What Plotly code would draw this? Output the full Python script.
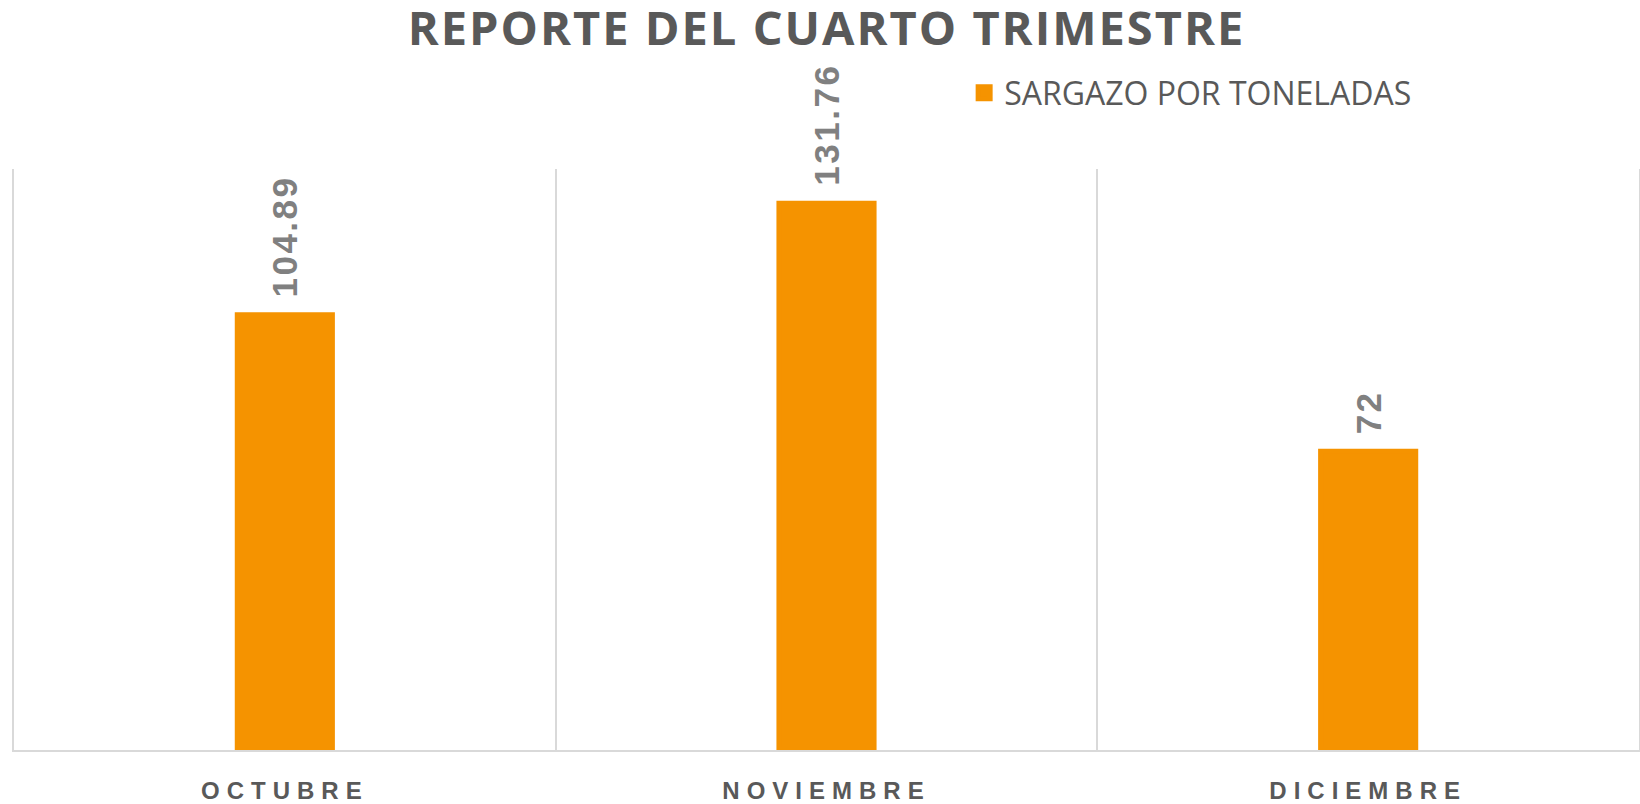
import plotly.graph_objects as go

months = ["OCTUBRE", "NOVIEMBRE", "DICIEMBRE"]
tons = [104.89, 131.76, 72]
label_text = ["104.89", "131.76", "72"]
series_name = "SARGAZO POR TONELADAS"
title_text = "REPORTE DEL CUARTO TRIMESTRE"

ORANGE = "#F59300"
GRID = "#D9D9D9"
DARK = "#595959"
LABEL = "#808080"

fig = go.Figure()
fig.add_trace(go.Bar(
    x=months, y=tons, name=series_name,
    marker=dict(color=ORANGE, line=dict(width=5, color=ORANGE)),
    width=0.1756, showlegend=True, hoverinfo="skip",
))

for m, v, t in zip(months, tons, label_text):
    fig.add_annotation(
        x=m, y=v, text=f'<b><span style="letter-spacing:2.5px">{t}</span></b>',
        textangle=-90, showarrow=False,
        yanchor="bottom", xanchor="center", yshift=15,
        font=dict(family="Liberation Sans, Arial, sans-serif", size=35, color=LABEL),
    )

tick_text = [f'<b><span style="letter-spacing:7px">{m}</span></b>' for m in months]

fig.update_layout(
    width=1640, height=804,
    margin=dict(l=14, r=1, t=169, b=54, autoexpand=False),
    paper_bgcolor="white", plot_bgcolor="white",
    title=dict(
        text=f'<b><span style="letter-spacing:2px">{title_text}</span></b>',
        x=0.5, xref="paper", xanchor="center",
        y=1 - 29 / 804, yref="container", yanchor="middle",
        font=dict(family="Open Sans, sans-serif", size=47, color=DARK),
    ),
    legend=dict(
        orientation="h", x=0.5847, xanchor="left", y=1.1308, yanchor="middle",
        font=dict(family="Open Sans, sans-serif", size=32, color=DARK),
        bgcolor="rgba(0,0,0,0)",
    ),
    xaxis=dict(
        type="category", range=[-0.5, 2.5],
        tickmode="array", tickvals=months, ticktext=tick_text,
        tickson="boundaries", showgrid=True, gridcolor=GRID, gridwidth=1.5,
        showline=True, linecolor=GRID, linewidth=1.5,
        ticks="", ticklabelstandoff=18,
        tickfont=dict(family="Liberation Sans, Arial, sans-serif", size=24, color=DARK),
        fixedrange=True,
    ),
    yaxis=dict(
        range=[0, 140], showgrid=False, zeroline=False, showticklabels=False,
        showline=True, mirror=True, linecolor=GRID, linewidth=1.5, ticks="",
        fixedrange=True,
    ),
)

fig.write_html(
    "out.html",
    config={"displayModeBar": False},
    post_script="document.body.style.margin='0';",
)
